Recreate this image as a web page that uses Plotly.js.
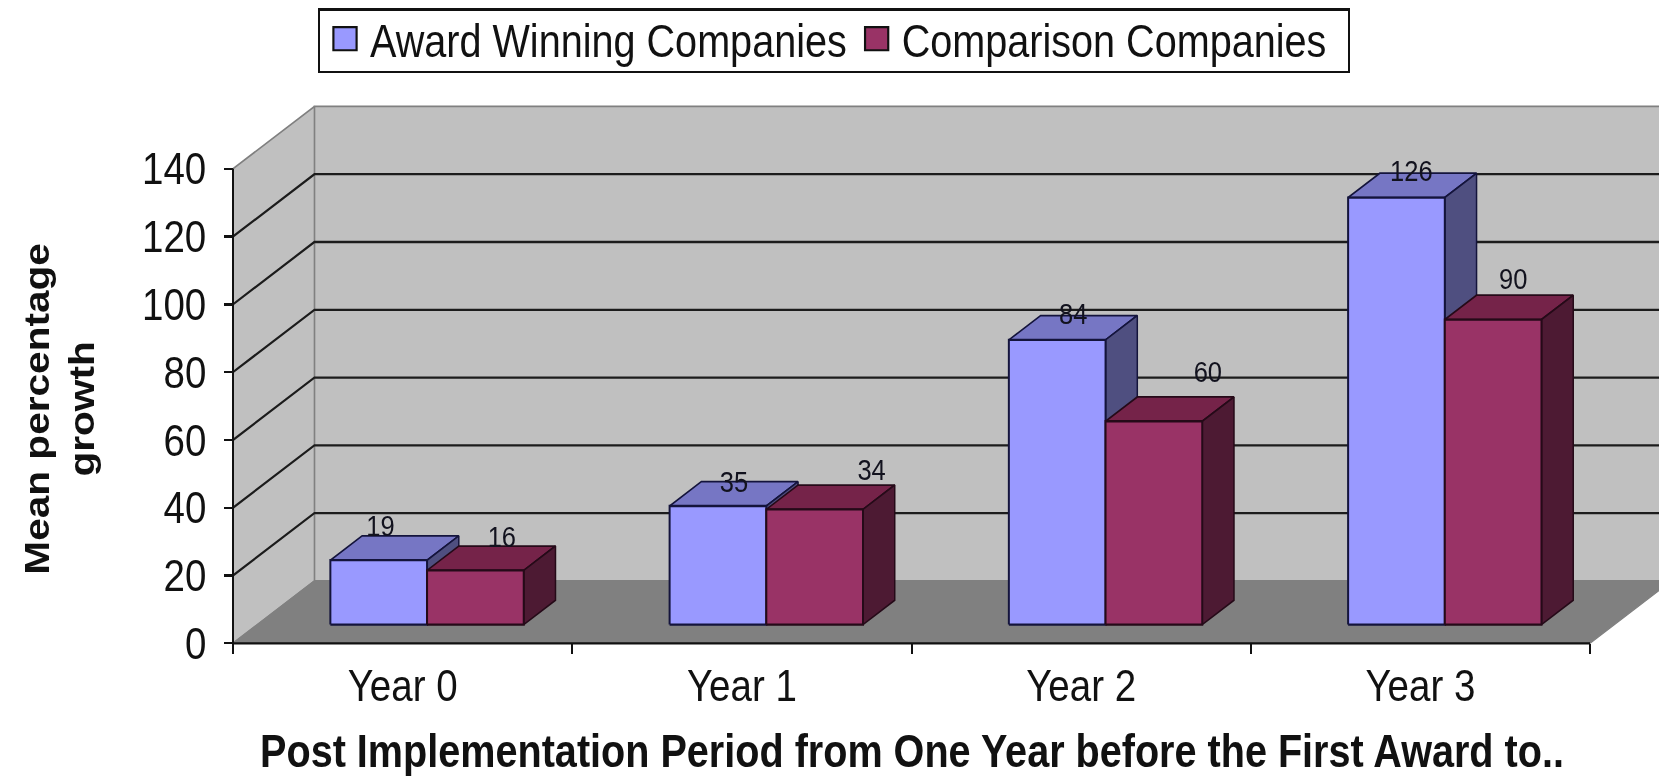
<!DOCTYPE html>
<html>
<head>
<meta charset="utf-8">
<script src="https://cdn.plot.ly/plotly-3.0.1.min.js"></script>
<style>html,body{margin:0;padding:0;background:#fff;width:1659px;height:776px}#wrap{width:1659px;height:776px;position:relative}#chart{position:absolute;left:0;top:0;width:1659px;height:669px;transform:scaleY(1.16);transform-origin:0 0;filter:blur(0.5px)}</style>
</head>
<body>
<div id="wrap"><div id="chart"></div></div>
<script>
// ---- data ----
const categories = ["Year 0", "Year 1", "Year 2", "Year 3"];
const awardWinning = [19, 35, 84, 126];
const comparison = [16, 34, 60, 90];
const yTicks = [0, 20, 40, 60, 80, 100, 120, 140];
const seriesNames = ["Award Winning Companies", "Comparison Companies"];
const xTitle = "Post Implementation Period from One Year before the First Award to..";
const yTitle = "Mean percentage<br>growth";

// ---- label nudges (the reference's labels are hand placed): category units, value units ----
const awardLabelDx = [0.005, 0.047, 0.047, 0.044];
const awardLabelDy = [2.1, -0.9, -0.25, 0];
const compLabelDx = [0.078, 0.168, 0.159, 0.059];
const compLabelDy = [1.9, 3.7, 6.6, 4];

// ---- oblique 3D projection in data units ----
const DX = 0.24, DV = 18.4;        // shift of the full floor depth
const Z0 = 0.3, Z1 = 0.69;         // bar depth span
const W = 0.285;                   // bar width
const TOP = 140;
const FONT = '"Liberation Sans",Arial,sans-serif';

function P(x, v, z) { return [x + z * DX, v + z * DV]; }
function poly(points) {
  return { x: points.map(p => p[0]).concat(points[0][0], null), y: points.map(p => p[1]).concat(points[0][1], null) };
}
function joined(list) {
  const o = { x: [], y: [] };
  list.forEach(l => { o.x.push(...l.x); o.y.push(...l.y); });
  return o;
}
function face(list, fill, line, lw) {
  const d = joined(list);
  return { x: d.x, y: d.y, mode: 'lines', fill: 'toself', fillcolor: fill,
    line: { color: line, width: lw }, hoverinfo: 'skip', showlegend: false };
}
function barFaces(values, left) {
  const front = [], top = [], side = [];
  values.forEach((v, i) => {
    const a = i + 0.5 + left, b = a + W;
    front.push(poly([P(a, 0, Z0), P(b, 0, Z0), P(b, v, Z0), P(a, v, Z0)]));
    top.push(poly([P(a, v, Z0), P(b, v, Z0), P(b, v, Z1), P(a, v, Z1)]));
    side.push(poly([P(b, 0, Z0), P(b, 0, Z1), P(b, v, Z1), P(b, v, Z0)]));
  });
  return { front, top, side };
}
function polyline(points) {
  return { x: points.map(p => p[0]).concat(null), y: points.map(p => p[1]).concat(null) };
}

const N = categories.length;
const traces = [];
// walls and floor
traces.push(face([poly([P(0, 0, 1), P(N, 0, 1), P(N, TOP, 1), P(0, TOP, 1)])], '#C0C0C0', '#808080', 1.5));
traces.push(face([poly([P(0, 0, 0), P(0, 0, 1), P(0, TOP, 1), P(0, TOP, 0)])], '#C0C0C0', '#808080', 1.5));
traces.push(face([poly([P(0, 0, 0), P(N, 0, 0), P(N, 0, 1), P(0, 0, 1)])], '#808080', '#808080', 1));
// gridlines
const gl = joined(yTicks.filter(t => t > 0 && t < TOP).map(t => polyline([P(0, t, 0), P(0, t, 1), P(N, t, 1)])));
traces.push({ x: gl.x, y: gl.y, mode: 'lines', line: { color: '#1c1c1c', width: 2 }, hoverinfo: 'skip', showlegend: false });
// axis lines
const al = joined([polyline([P(0, TOP, 0), P(0, 0, 0), P(N, 0, 0)])]);
traces.push({ x: al.x, y: al.y, mode: 'lines', line: { color: '#111', width: 2 }, hoverinfo: 'skip', showlegend: false });
// bars
const A2 = barFaces(awardWinning, -W);
const C2 = barFaces(comparison, 0);
traces.push(face(A2.top, '#7676C4', '#14143c', 1.5));
traces.push(face(A2.side, '#4F4F80', '#14143c', 1.5));
traces.push(face(A2.front, '#9999FF', '#14143c', 2));
traces.push(face(C2.top, '#752349', '#250a18', 1.5));
traces.push(face(C2.side, '#4D1A33', '#250a18', 1.5));
traces.push(face(C2.front, '#993366', '#250a18', 2));
// data labels
function labelTrace(values, left, dx, dy) {
  return {
    x: values.map((v, i) => i + 0.5 + left + W / 2 + Z0 * DX + dx[i]),
    y: values.map((v, i) => v + Z1 * DV + dy[i]),
    text: values.map(String), mode: 'text', textposition: 'middle center',
    textfont: { family: FONT, size: 25.5, color: '#12121e' }, hoverinfo: 'skip', showlegend: false
  };
}
traces.push(labelTrace(awardWinning, -W, awardLabelDx, awardLabelDy));
traces.push(labelTrace(comparison, 0, compLabelDx, compLabelDy));
// legend entries
[['#9999FF', 0], ['#993366', 1]].forEach(([col, k]) => {
  traces.push({ x: [-5], y: [-500], mode: 'markers', name: seriesNames[k], showlegend: true, hoverinfo: 'skip',
    marker: { symbol: 'square', size: 16, color: col, line: { color: '#111', width: 1.5 } } });
});

// ---- page geometry: the reference is stretched 1.16× vertically, so the page is drawn at 1/1.16 height ----
const S = 1.16, H = 776 / S;
const L = 165, R = 1659, T = 100 / S, B = 718 / S;   // plot box
const X0 = 233, XN = 1590, Y0 = 643.3 / S, Y140 = 169 / S; // front axis
const ux = (XN - X0) / N, uy = (Y0 - Y140) / TOP;

const layout = {
  width: 1659, height: H, showlegend: true,
  paper_bgcolor: '#fff', plot_bgcolor: 'rgba(0,0,0,0)',
  margin: { l: L, r: 1659 - R, t: T, b: H - B, pad: 0 },
  xaxis: {
    range: [(L - X0) / ux, (R - X0) / ux], anchor: 'free', position: (B - Y0) / (B - T),
    tickmode: 'array', tickvals: categories.map((c, i) => i + 0.5), ticktext: categories,
    ticks: '', showgrid: false, zeroline: false, showline: false,
    ticklabelstandoff: 10,
    tickfont: { family: FONT, size: 38.5, color: '#111' },
    minor: { tickmode: 'array', tickvals: categories.map((c, i) => i).concat(N), ticks: 'outside', ticklen: 8, tickwidth: 2, tickcolor: '#111', showgrid: false },
    title: { text: '<b>' + xTitle + '</b>', font: { family: FONT, size: 39.6, color: '#111' }, standoff: 26 }
  },
  yaxis: {
    range: [(Y0 - B) / uy, (Y0 - T) / uy], anchor: 'free', position: (X0 - L) / (R - L),
    tickmode: 'array', tickvals: yTicks, ticks: 'outside', ticklen: 9, tickwidth: 2, tickcolor: '#111',
    ticklabelstandoff: 10,
    showgrid: false, zeroline: false, showline: false,
    tickfont: { family: FONT, size: 38.5, color: '#111' },
    title: { text: '<b>' + yTitle + '</b>', font: { family: FONT, size: 35, color: '#111' }, standoff: 35 }
  },
  legend: {
    orientation: 'h', xref: 'paper', yref: 'paper',
    x: (318 - L) / (R - L), xanchor: 'left', y: 1 + (T - 8.5 / S) / (B - T), yanchor: 'top',
    bgcolor: '#fff', bordercolor: '#111', borderwidth: 2,
    font: { family: FONT, size: 39.6, color: '#111' }, itemwidth: 40, itemclick: false, itemdoubleclick: false
  }
};
Plotly.newPlot('chart', traces, layout, { displayModeBar: false, staticPlot: true }).then(() => {
  // legend fine-tuning the library offers no option for: larger swatches, a tighter box
  document.querySelectorAll('.legendpoints path').forEach(p => {
    p.setAttribute('transform', (p.getAttribute('transform') || '') + ' scale(1.45,1.25)');
  });
  const bg = document.querySelector('.legend .bg');
  if (bg) { bg.setAttribute('height', 54); bg.setAttribute('width', +bg.getAttribute('width') + 16); }
  const box = document.querySelector('.legend .scrollbox');
  if (box) { box.setAttribute('transform', 'translate(0,-8)'); }
});
</script>
</body>
</html>
